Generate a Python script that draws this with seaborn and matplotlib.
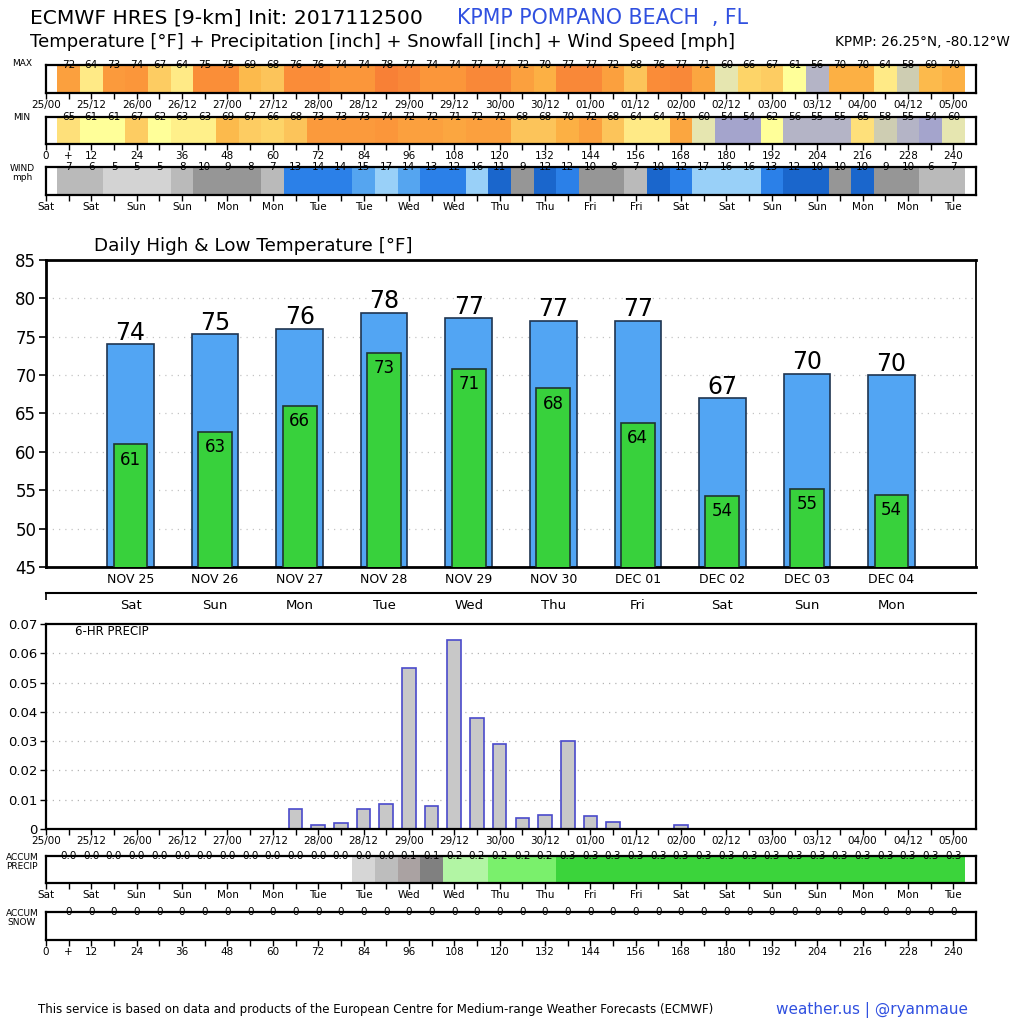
import numpy as np
import pandas as pd
import matplotlib
matplotlib.use("Agg")
import matplotlib.pyplot as plt
from matplotlib.colors import ListedColormap
import seaborn as sns

# ---------------- data ----------------
max_temp = [72, 64, 73, 74, 67, 64, 75, 75, 69, 68, 76, 76, 74, 74, 78, 77, 74, 74, 77, 77,
            72, 70, 77, 77, 72, 68, 76, 77, 71, 60, 66, 67, 61, 56, 70, 70, 64, 58, 69, 70]
min_temp = [65, 61, 61, 67, 62, 63, 63, 69, 67, 66, 68, 73, 73, 73, 74, 72, 72, 71, 72, 72,
            68, 68, 70, 72, 68, 64, 64, 71, 60, 54, 54, 62, 56, 55, 55, 65, 58, 55, 54, 60]
wind_mph = [7.0, 6.0, 5.0, 5.0, 5.0, 7.8, 9.8, 9.0, 8.2, 7.0, 13.0, 13.8, 13.8, 15.0, 17.0, 14.2, 13.0, 12.2, 16.2, 11.0,
            9.0, 11.8, 12.2, 9.8, 8.2, 7.0, 10.2, 12.2, 17.0, 16.2, 16.2, 13.0, 11.8, 10.2, 9.8, 10.2, 9.0, 9.8, 6.0, 7.0]
precip_6hr = [0, 0, 0, 0, 0, 0, 0, 0, 0, 0,
              0.0067, 0.0012, 0.0019, 0.0067, 0.0084, 0.0549, 0.0079, 0.0645, 0.0379, 0.0289,
              0.0038, 0.0049, 0.0301, 0.0043, 0.0025, 0, 0, 0.0012, 0, 0,
              0, 0, 0, 0, 0, 0, 0, 0, 0, 0]
snow_6hr = [0, 0, 0, 0, 0, 0, 0, 0, 0, 0, 0, 0, 0, 0, 0, 0, 0, 0, 0, 0,
            0, 0, 0, 0, 0, 0, 0, 0, 0, 0, 0, 0, 0, 0, 0, 0, 0, 0, 0, 0]

days = ["NOV 25", "NOV 26", "NOV 27", "NOV 28", "NOV 29", "NOV 30", "DEC 01", "DEC 02", "DEC 03", "DEC 04"]
weekdays = ["Sat", "Sun", "Mon", "Tue", "Wed", "Thu", "Fri", "Sat", "Sun", "Mon"]
daily_high = [74.0, 75.3, 76.0, 78.1, 77.4, 77.1, 77.1, 67.0, 70.2, 70.0]
daily_low = [61.0, 62.6, 66.0, 72.9, 70.8, 68.3, 63.8, 54.3, 55.2, 54.4]

date_labels = ["25/00", "25/12", "26/00", "26/12", "27/00", "27/12", "28/00", "28/12", "29/00", "29/12",
               "30/00", "30/12", "01/00", "01/12", "02/00", "02/12", "03/00", "03/12", "04/00", "04/12", "05/00"]
day_labels = ["Sat", "Sat", "Sun", "Sun", "Mon", "Mon", "Tue", "Tue", "Wed", "Wed", "Thu",
              "Thu", "Fri", "Fri", "Sat", "Sat", "Sun", "Sun", "Mon", "Mon", "Tue"]
hour_labels = ["0", "12", "24", "36", "48", "60", "72", "84", "96", "108", "120",
               "132", "144", "156", "168", "180", "192", "204", "216", "228", "240"]

fcst_hours = np.arange(6, 241, 6)          # valid hour of each 6-h period
tick_hours = np.arange(0, 241, 6)

# ---------------- styles ----------------
temp_colors = {54: "#a4a4cc", 55: "#b4b4c6", 56: "#b4b4c6", 57: "#c2c2bc", 58: "#cecdb2", 59: "#dadab0",
               60: "#e6e6b0", 61: "#ffff99", 62: "#ffff99", 63: "#fff08a", 64: "#ffea86", 65: "#fee07a",
               66: "#fdd468", 67: "#fdcc62", 68: "#fcc45a", 69: "#fcba4c", 70: "#fcb044", 71: "#fba640",
               72: "#fba03e", 73: "#fb9a3c", 74: "#fb963a", 75: "#fa8e38", 76: "#fa8c38", 77: "#f98838",
               78: "#f88036"}
wind_edges = [6, 8, 10, 12, 14, 16]
wind_colors = ["#d3d3d3", "#bababa", "#969696", "#1a66cc", "#2b80e8", "#55a5f0", "#99d0f8"]
acc_edges = [0.01, 0.02, 0.05, 0.085, 0.1, 0.2, 0.25]
acc_colors = ["#ffffff", "#d6d6d6", "#bdbdbd", "#aaa2a2", "#808080", "#b2f5a4", "#7af06c", "#3bd43b"]

sns.set_theme(style="white")
plt.rcParams["font.family"] = ["DejaVu Sans"]
plt.rcParams["text.color"] = "black"
plt.rcParams["xtick.color"] = "black"
plt.rcParams["ytick.color"] = "black"
plt.rcParams["axes.edgecolor"] = "black"

W = 1024.0
fig = plt.figure(figsize=(10.24, 10.24), dpi=100)
fig.patch.set_facecolor("white")


def rect(x0, y0, x1, y1):
    return [x0 / W, 1 - y1 / W, (x1 - x0) / W, (y1 - y0) / W]


def strip(y0, y1, idx, colors, texts, bottom_labels):
    ax = fig.add_axes(rect(46, y0, 976, y1))
    cmap = ListedColormap(colors)
    sns.heatmap(np.array(idx)[None, :], cmap=cmap, vmin=-0.5, vmax=len(colors) - 0.5,
                cbar=False, xticklabels=False, yticklabels=False, ax=ax)
    ax.set_xlim(-0.5, 40.5)
    ax.set_ylim(1, 0)
    for s in ax.spines.values():
        s.set_visible(True)
        s.set_linewidth(1.6)
        s.set_color("black")
    for i, t in enumerate(texts):
        ax.text(i + 0.5, 0, t, ha="center", va="center", fontsize=7.5, clip_on=False)
    pos = (tick_hours - 3) / 6.0
    labs = []
    for h in tick_hours:
        if h % 12 == 0:
            labs.append(bottom_labels[h // 12])
        elif h == 6 and bottom_labels is hour_labels:
            labs.append("+")
        else:
            labs.append("")
    ax.set_xticks(pos)
    ax.set_xticklabels(labs)
    ax.tick_params(axis="x", bottom=True, length=4, width=1, direction="out",
                   labelsize=7.5, pad=1, colors="black")
    ax.set_yticks([])
    return ax


# temperature strips
tkeys = sorted(temp_colors)
tcols = [temp_colors[k] for k in tkeys]
strip(65, 93, [tkeys.index(v) for v in max_temp], tcols, [str(v) for v in max_temp], date_labels)
strip(117, 144, [tkeys.index(v) for v in min_temp], tcols, [str(v) for v in min_temp], hour_labels)
strip(167, 195, list(np.digitize(wind_mph, wind_edges)), wind_colors,
      [f"{v:.0f}" for v in wind_mph], day_labels)

# accumulated precip / snow strips
acc_precip = np.cumsum(precip_6hr)
acc_snow = np.cumsum(snow_6hr)
strip(856, 883, list(np.digitize(acc_precip, acc_edges)), acc_colors,
      [f"{v:.1f}" for v in acc_precip], day_labels)
strip(912, 940, [0] * len(acc_snow), ["#ffffff"], [f"{v:.0f}" for v in acc_snow], hour_labels)

for y, t in [(64, "MAX"), (117, "MIN"), (173, "WIND\nmph"), (862, "ACCUM\nPRECIP"), (918, "ACCUM\nSNOW")]:
    fig.text(22 / W, 1 - y / W, t, ha="center", va="center", fontsize=6.5, linespacing=1.1)

# ---------------- daily high / low ----------------
ax_t = fig.add_axes(rect(46, 260, 976, 567))
df_t = pd.DataFrame({"day": days, "high": daily_high, "low": daily_low})
sns.barplot(data=df_t, x="day", y="high", color="#52a5f3", edgecolor="#1f3550", linewidth=1.2,
            width=0.55, saturation=1, errorbar=None, ax=ax_t, zorder=2)
sns.barplot(data=df_t, x="day", y="low", color="#38d13c", edgecolor="#1f3530", linewidth=1.2,
            width=0.40, saturation=1, errorbar=None, ax=ax_t, zorder=3)
ax_t.set_xlim(-1, 10)
ax_t.set_ylim(45, 85)
ax_t.set_yticks(range(45, 86, 5))
for y in range(50, 85, 5):
    ax_t.axhline(y, color="#c4c4c4", lw=0.9, ls=(0, (1, 4)), zorder=0)
for i, v in enumerate(daily_high):
    ax_t.text(i, v + 0.6, f"{v:.0f}", ha="center", va="baseline", fontsize=17, zorder=5)
for i, v in enumerate(daily_low):
    ax_t.text(i, v - 2.0, f"{v:.0f}", ha="center", va="center", fontsize=12, zorder=5)
ax_t.set_xlabel("")
ax_t.set_ylabel("")
ax_t.tick_params(axis="y", left=True, length=5, width=1.2, labelsize=12, pad=2)
ax_t.tick_params(axis="x", bottom=True, length=0, labelsize=9, pad=4)
for k, s in ax_t.spines.items():
    s.set_visible(True)
    s.set_color("black")
    s.set_linewidth(2.0 if k != "right" else 1.3)
fig.text(94 / W, 1 - 246 / W, "Daily High & Low Temperature [°F]", ha="left", va="center", fontsize=13.2)

ax_d = fig.add_axes(rect(46, 592, 976, 592.5))
ax_d.set_xlim(-1, 10)
ax_d.set_xticks(range(10))
ax_d.set_xticklabels(weekdays)
ax_d.set_xticks([-1], minor=True)
ax_d.tick_params(axis="x", which="major", bottom=True, length=0, labelsize=9.5, pad=5)
ax_d.tick_params(axis="x", which="minor", bottom=True, length=5, width=1.2)
ax_d.set_yticks([])
for k, s in ax_d.spines.items():
    s.set_visible(k == "bottom")
s = ax_d.spines["bottom"]
s.set_linewidth(1.5)
s.set_color("black")
ax_d.patch.set_alpha(0)

# ---------------- 6-hr precip ----------------
ax_p = fig.add_axes(rect(46, 624, 976, 829))
df_p = pd.DataFrame({"hour": fcst_hours, "precip": precip_6hr})
sns.barplot(data=df_p, x="hour", y="precip", native_scale=True, width=0.6, color="#c8c8c8",
            edgecolor="#4a4acb", linewidth=1.2, saturation=1, errorbar=None, ax=ax_p, zorder=2)
ax_p.set_xlim(0, 246)
ax_p.set_ylim(0, 0.07)
yt = [0, 0.01, 0.02, 0.03, 0.04, 0.05, 0.06, 0.07]
ax_p.set_yticks(yt)
ax_p.set_yticklabels(["0"] + [f"{v:.2f}" for v in yt[1:]])
for y in yt[1:-1]:
    ax_p.axhline(y, color="#b4b4b4", lw=0.9, ls=(0, (1, 4)), zorder=0)
ax_p.set_xticks(tick_hours)
ax_p.set_xticklabels([date_labels[h // 12] if h % 12 == 0 else "" for h in tick_hours])
ax_p.tick_params(axis="x", bottom=True, length=4, width=1, labelsize=7.5, pad=1)
ax_p.tick_params(axis="y", left=True, length=4, width=1, labelsize=9.5, pad=2)
ax_p.set_xlabel("")
ax_p.set_ylabel("")
for s in ax_p.spines.values():
    s.set_visible(True)
    s.set_color("black")
    s.set_linewidth(1.6)
ax_p.text(0.031, 0.962, "6-HR PRECIP", transform=ax_p.transAxes, ha="left", va="center", fontsize=8.5)

# ---------------- titles / footer ----------------
fig.text(30 / W, 1 - 18 / W, "ECMWF HRES [9-km] Init: 2017112500", ha="left", va="center", fontsize=14.6)
fig.text(457 / W, 1 - 18 / W, "KPMP POMPANO BEACH  , FL", ha="left", va="center", fontsize=14.8,
         color="#3050e0")
fig.text(30 / W, 1 - 42 / W,
         "Temperature [°F] + Precipitation [inch] + Snowfall [inch] + Wind Speed [mph]",
         ha="left", va="center", fontsize=13)
fig.text(1010 / W, 1 - 42 / W, "KPMP: 26.25°N, -80.12°W", ha="right", va="center", fontsize=9.8)
fig.text(38 / W, 1 - 1010 / W,
         "This service is based on data and products of the European Centre for Medium-range Weather Forecasts (ECMWF)",
         ha="left", va="center", fontsize=8.5)
fig.text(968 / W, 1 - 1010 / W, "weather.us | @ryanmaue", ha="right", va="center", fontsize=11,
         color="#3050e0")

fig.savefig("out.png", dpi=100, facecolor="white")
